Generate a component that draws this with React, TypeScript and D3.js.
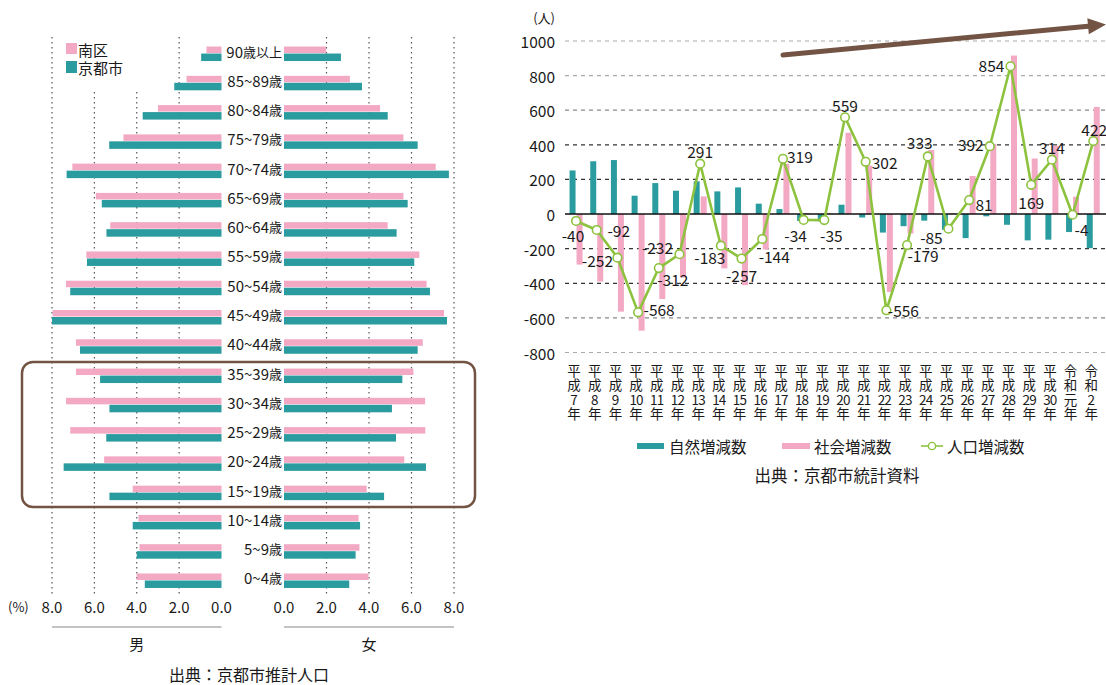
import React from "react";
import * as d3 from "d3";

// ---------- Left: population pyramid ----------
const ages = [
  "90歳以上", "85~89歳", "80~84歳", "75~79歳", "70~74歳", "65~69歳", "60~64歳",
  "55~59歳", "50~54歳", "45~49歳", "40~44歳", "35~39歳", "30~34歳", "25~29歳",
  "20~24歳", "15~19歳", "10~14歳", "5~9歳", "0~4歳",
];
const minamiMale = [0.71, 1.65, 3.0, 4.63, 7.04, 5.93, 5.25, 6.38, 7.34, 7.97, 6.87, 6.87, 7.34, 7.14, 5.54, 4.19, 3.92, 3.87, 4.0];
const kyotoMale = [0.96, 2.23, 3.72, 5.3, 7.31, 5.65, 5.43, 6.35, 7.14, 8.0, 6.68, 5.73, 5.29, 5.44, 7.45, 5.29, 4.19, 4.0, 3.62];
const minamiFemale = [1.98, 3.1, 4.52, 5.62, 7.14, 5.62, 4.88, 6.37, 6.71, 7.53, 6.53, 6.09, 6.64, 6.65, 5.66, 3.89, 3.51, 3.55, 3.98];
const kyotoFemale = [2.68, 3.67, 4.88, 6.29, 7.76, 5.82, 5.3, 6.13, 6.87, 7.67, 6.29, 5.57, 5.08, 5.27, 6.68, 4.71, 3.58, 3.37, 3.07];
const pctTicks = [0, 2, 4, 6, 8];
const pyramidLegend = ["南区", "京都市"];

// ---------- Right: population change ----------
const years = [
  "平成7年", "平成8年", "平成9年", "平成10年", "平成11年", "平成12年", "平成13年", "平成14年",
  "平成15年", "平成16年", "平成17年", "平成18年", "平成19年", "平成20年", "平成21年", "平成22年",
  "平成23年", "平成24年", "平成25年", "平成26年", "平成27年", "平成28年", "平成29年", "平成30年",
  "令和元年", "令和2年",
];
const naturalChange = [252, 305, 312, 106, 179, 135, 189, 131, 154, 60, 29, -40, -42, 54, -20, -107, -70, -38, -91, -139, -13, -62, -152, -148, -104, -197];
const socialChange = [-292, -390, -564, -674, -491, -367, 102, -314, -411, -204, 290, 6, 7, 470, 280, -450, -112, 370, 6, 220, 405, 916, 321, 395, 100, 619];
const totalChange = [-40, -92, -252, -568, -312, -232, 291, -183, -257, -144, 319, -34, -35, 559, 302, -556, -179, 333, -85, 81, 392, 854, 169, 314, -4, 422];
const changeTicks = [1000, 800, 600, 400, 200, 0, -200, -400, -600, -800];
const changeLegend = ["自然増減数", "社会増減数", "人口増減数"];

const PINK = "#f3a9c4";
const TEAL = "#2a9c9f";
const GREEN = "#8dc23f";
const BROWN = "#735444";
const FONT = "'Noto Sans CJK JP', 'Noto Sans', sans-serif";
const TXT = "#1a1a1a";

// label offsets (dx, dy) relative to each line point
const labelOffsets: [number, number][] = [
  [-3, 14], [22, 0], [-20, 2], [21, -3], [14, 11], [-22, -7], [0, -13], [-11, 11], [0, 16],
  [12, 17], [17, -3], [-8, 15], [7, 15], [0, -12], [19, 0], [17, 0], [16, 10], [-8, -14],
  [-17, 8], [15, 4], [-19, -2], [-19, -1], [0, 17], [0, -13], [9, 14], [1, -12],
];

// split an age label into runs of digits/tilde and other characters
function splitRuns(s: string) {
  const runs: { t: string; num: boolean }[] = [];
  for (const ch of s) {
    const num = /[0-9~]/.test(ch);
    if (runs.length && runs[runs.length - 1].num === num) runs[runs.length - 1].t += ch;
    else runs.push({ t: ch, num });
  }
  return runs;
}

function Pyramid() {
  const maleX = d3.scaleLinear().domain([0, 8]).range([221.5, 52]);
  const femaleX = d3.scaleLinear().domain([0, 8]).range([284, 454]);
  const y = d3.scaleBand().domain(ages).range([38.4, 594.6]).padding(0);
  const bw = y.bandwidth();
  const cy = (a: string) => (y(a) as number) + bw / 2;
  const gridTop = 37, gridBottom = 596;

  return (
    <g>
      {pctTicks.filter((t) => t > 0).map((t) => (
        <line key={"m" + t} x1={maleX(t)} x2={maleX(t)} y1={gridTop} y2={gridBottom}
          stroke="#555" strokeWidth={1.2} strokeDasharray="1.5,3.5" />
      ))}
      {pctTicks.filter((t) => t > 0).map((t) => (
        <line key={"f" + t} x1={femaleX(t)} x2={femaleX(t)} y1={gridTop} y2={gridBottom}
          stroke="#555" strokeWidth={1.2} strokeDasharray="1.5,3.5" />
      ))}
      <rect x={60} y={36} width={92} height={56} fill="#fff" />
      <rect x={66} y={43} width={11} height={11} fill={PINK} />
      <text x={78} y={49} dominantBaseline="central" fontSize={15} fill={TXT}>{pyramidLegend[0]}</text>
      <rect x={66} y={61} width={11} height={12} fill={TEAL} />
      <text x={78} y={67.5} dominantBaseline="central" fontSize={15} fill={TXT}>{pyramidLegend[1]}</text>

      {ages.map((a, i) => {
        const c = cy(a);
        return (
          <g key={a}>
            <rect x={maleX(minamiMale[i])} y={c - 6.5} width={maleX(0) - maleX(minamiMale[i])} height={6.5} fill={PINK} />
            <rect x={maleX(kyotoMale[i])} y={c + 0.5} width={maleX(0) - maleX(kyotoMale[i])} height={7.5} fill={TEAL} />
            <rect x={femaleX(0)} y={c - 6.5} width={femaleX(minamiFemale[i]) - femaleX(0)} height={6.5} fill={PINK} />
            <rect x={femaleX(0)} y={c + 0.5} width={femaleX(kyotoFemale[i]) - femaleX(0)} height={7.5} fill={TEAL} />
            <text x={282} y={c - 2.5} textAnchor="end" dominantBaseline="central" fontSize={15} fill={TXT}>
              {splitRuns(a).map((r, k) => (
                <tspan key={k} fontSize={r.num ? 15 : 13}>{r.t}</tspan>
              ))}
            </text>
          </g>
        );
      })}

      <rect x={22} y={362} width={453} height={145} rx={11} fill="none" stroke={BROWN} strokeWidth={2.5} />

      <text x={8} y={606} dominantBaseline="central" fontSize={13} fill={TXT}>(%)</text>
      {pctTicks.map((t) => (
        <text key={"mt" + t} x={maleX(t)} y={606} textAnchor="middle" dominantBaseline="central" fontSize={15} fill={TXT}>{t.toFixed(1)}</text>
      ))}
      {pctTicks.map((t) => (
        <text key={"ft" + t} x={femaleX(t)} y={606} textAnchor="middle" dominantBaseline="central" fontSize={15} fill={TXT}>{t.toFixed(1)}</text>
      ))}
      <line x1={maleX(8)} x2={maleX(0)} y1={627} y2={627} stroke="#888" strokeWidth={1} />
      <line x1={femaleX(0)} x2={femaleX(8)} y1={627} y2={627} stroke="#888" strokeWidth={1} />
      <text x={maleX(4)} y={643} textAnchor="middle" dominantBaseline="central" fontSize={15} fill={TXT}>男</text>
      <text x={femaleX(4)} y={643} textAnchor="middle" dominantBaseline="central" fontSize={15} fill={TXT}>女</text>
      <text x={249} y={674} textAnchor="middle" dominantBaseline="central" fontSize={16} fill={TXT}>出典：京都市推計人口</text>
    </g>
  );
}

function ChangeChart() {
  const x = d3.scaleBand().domain(years).range([565.7, 1103.6]).padding(0);
  const y = d3.scaleLinear().domain([-800, 1000]).range([352.5, 41]);
  const cx = (yr: string) => (x(yr) as number) + x.bandwidth() / 2;
  const gridStroke = (t: number) => (Math.abs(t) >= 800 ? "#aaa" : Math.abs(t) === 600 ? "#888" : "#333");

  const line = d3.line<number>().x((_, i) => cx(years[i])).y((d) => y(d));

  const ax1 = 783, ay1 = 55, ax2 = 1106, ay2 = 24.5;
  const ang = Math.atan2(ay2 - ay1, ax2 - ax1);
  const hl = 18, hw = 8;
  const bx = ax2 - hl * Math.cos(ang), by = ay2 - hl * Math.sin(ang);
  const px = -Math.sin(ang), py = Math.cos(ang);

  return (
    <g>
      <text x={555} y={17.5} textAnchor="end" dominantBaseline="central" fontSize={13} fill={TXT}>(人)</text>
      {changeTicks.map((t) => (
        <g key={t}>
          <text x={555} y={y(t)} textAnchor="end" dominantBaseline="central" fontSize={15.5} fill={TXT}>{t}</text>
          {t !== 0 && (
            <line x1={565} x2={1106} y1={y(t)} y2={y(t)} stroke={gridStroke(t)} strokeWidth={1.2} strokeDasharray="4,4" />
          )}
        </g>
      ))}

      {years.map((yr, i) => {
        const c = cx(yr);
        return (
          <g key={yr}>
            <rect x={c - 6.5} width={6} y={Math.min(y(0), y(naturalChange[i]))} height={Math.abs(y(naturalChange[i]) - y(0))} fill={TEAL} />
            <rect x={c + 0.5} width={6} y={Math.min(y(0), y(socialChange[i]))} height={Math.abs(y(socialChange[i]) - y(0))} fill={PINK} />
          </g>
        );
      })}
      <line x1={565} x2={1106} y1={y(0)} y2={y(0)} stroke="#111" strokeWidth={1.6} />

      <path d={line(totalChange) as string} fill="none" stroke={GREEN} strokeWidth={2.6} strokeLinejoin="round" />
      {totalChange.map((v, i) => (
        <circle key={"p" + i} cx={cx(years[i])} cy={y(v)} r={4.3} fill="#fff" stroke={GREEN} strokeWidth={1.6} />
      ))}
      {totalChange.map((v, i) => (
        <text key={"l" + i} x={cx(years[i]) + labelOffsets[i][0]} y={y(v) + labelOffsets[i][1]}
          textAnchor="middle" dominantBaseline="central" fontSize={15.5} fill={TXT}>{v}</text>
      ))}

      {years.map((yr) => {
        const era = yr.slice(0, 2);
        const num = yr.slice(2, -1);
        const parts = [era[0], era[1], num, "年"];
        const colX = cx(yr) - 2;
        return (
          <text key={"x" + yr} x={colX} y={376} textAnchor="middle" fontSize={13.5} fill={TXT}>
            {parts.map((p, k) => (
              <tspan key={k} x={colX} dy={k === 0 ? 0 : 14.3}
                letterSpacing={num.length > 1 && k === 2 ? -0.8 : 0}>{p}</tspan>
            ))}
          </text>
        );
      })}

      <rect x={637} y={443} width={27} height={6} fill={TEAL} />
      <text x={669} y={446} dominantBaseline="central" fontSize={15.5} fill={TXT}>{changeLegend[0]}</text>
      <rect x={782} y={443} width={28} height={6} fill={PINK} />
      <text x={814} y={446} dominantBaseline="central" fontSize={15.5} fill={TXT}>{changeLegend[1]}</text>
      <line x1={921} x2={943} y1={446} y2={446} stroke={GREEN} strokeWidth={1.6} />
      <circle cx={932} cy={446} r={3.6} fill="#fff" stroke={GREEN} strokeWidth={1.4} />
      <text x={947} y={446} dominantBaseline="central" fontSize={15.5} fill={TXT}>{changeLegend[2]}</text>

      <text x={837} y={475} textAnchor="middle" dominantBaseline="central" fontSize={16.5} fill={TXT}>出典：京都市統計資料</text>

      <line x1={ax1} y1={ay1} x2={bx} y2={by} stroke={BROWN} strokeWidth={5} strokeLinecap="round" />
      <polygon points={`${ax2},${ay2} ${bx + px * hw},${by + py * hw} ${bx - px * hw},${by - py * hw}`} fill={BROWN} />
    </g>
  );
}

export default function App() {
  return (
    <svg width={1106} height={685} viewBox="0 0 1106 685"
      style={{ position: "absolute", left: 0, top: 0, background: "#fff", fontFamily: FONT }}>
      <rect width={1106} height={685} fill="#fff" />
      <Pyramid />
      <ChangeChart />
    </svg>
  );
}
